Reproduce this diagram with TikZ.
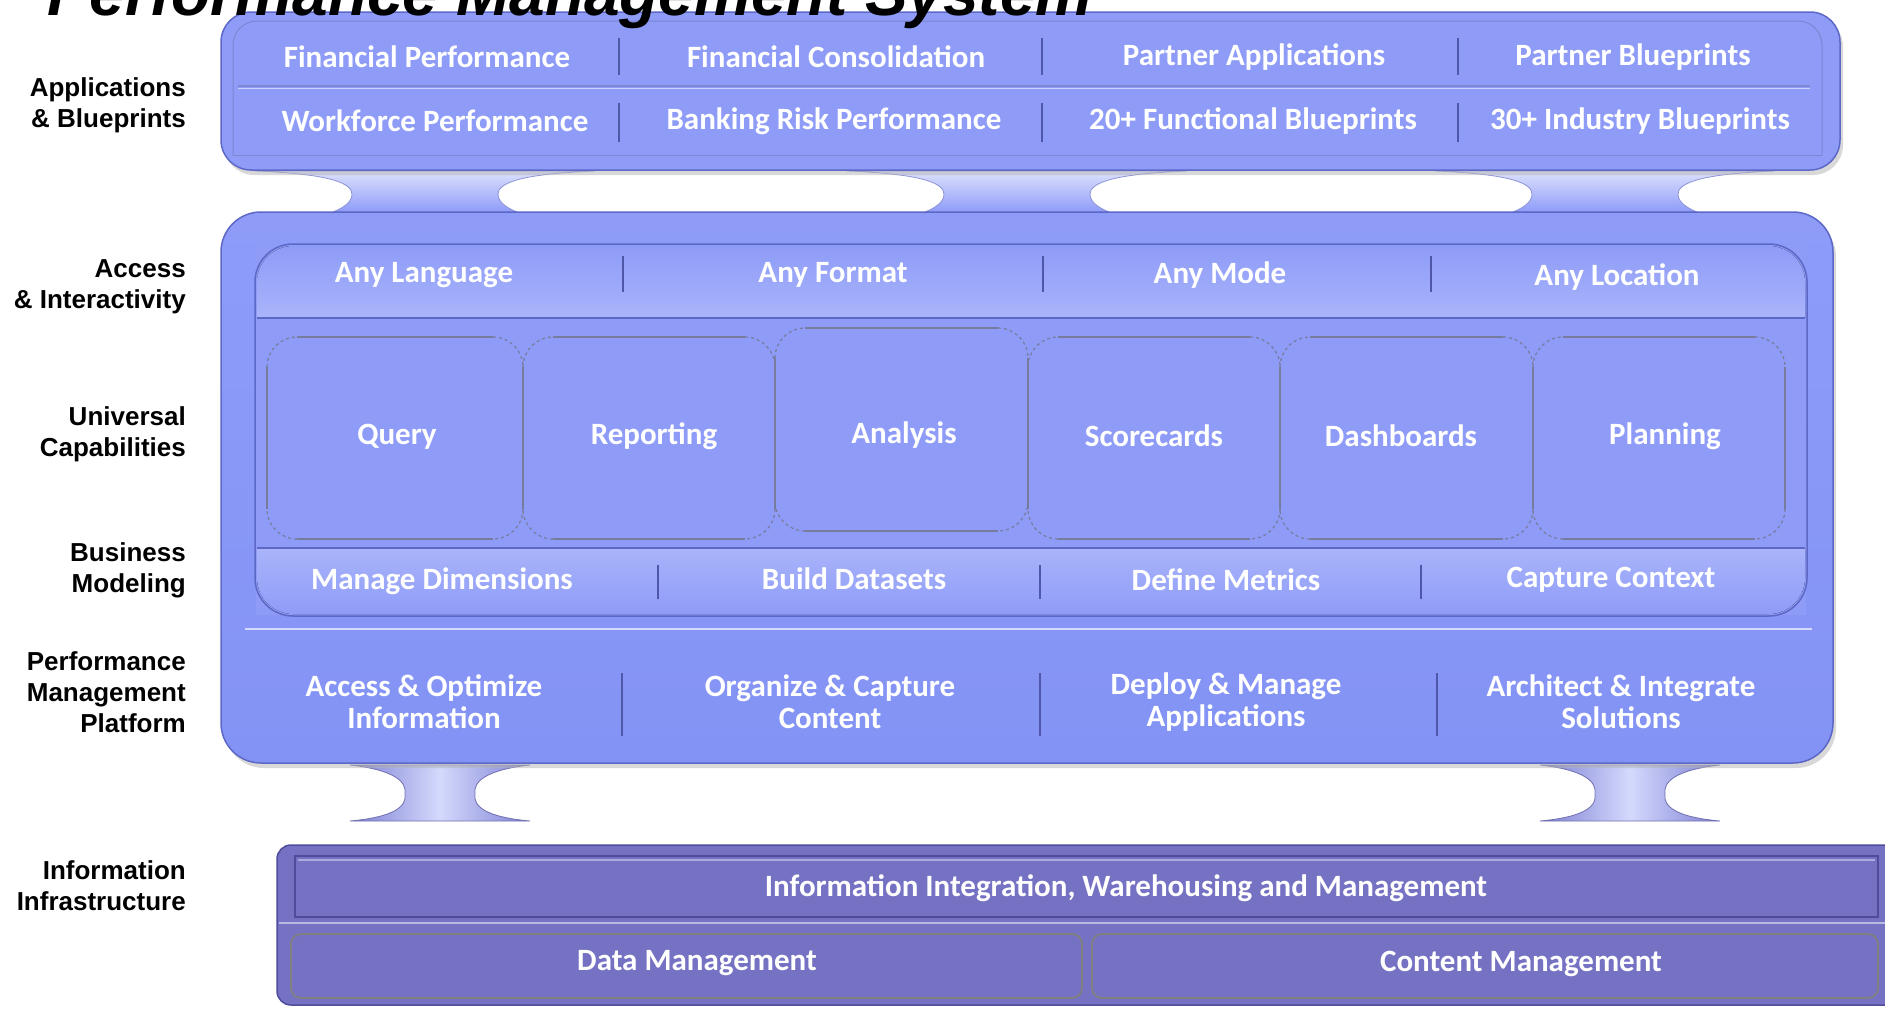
\documentclass[tikz,border=0pt]{standalone}
\usepackage{fontspec}
\setmainfont{Liberation Sans}
\newfontfamily\boxfont{Carlito}
\usetikzlibrary{shadows}

\definecolor{pmblue}{HTML}{8E9CF8}
\definecolor{pmdeep}{HTML}{8393F5}
\definecolor{pmlight}{HTML}{A9B4FA}
\definecolor{pmdark}{HTML}{5D68C6}
\definecolor{infra}{HTML}{7572C4}
\definecolor{infradark}{HTML}{4F4C9C}
\definecolor{capline}{HTML}{777B9C}

\begin{document}
\begin{tikzpicture}[x=1pt,y=-1pt,
    layer label/.style={font=\bfseries\fontsize{26}{31}\selectfont,align=right,anchor=east,inner sep=0pt},
    item/.style={font=\boxfont\bfseries\fontsize{31}{32}\selectfont,text=white,align=center,inner sep=0pt},
    panel/.style={draw=pmdark,line width=1.5pt},
    sep/.style={draw=pmdark!85!black,line width=1.3pt},
    foot/.style={draw=pmdark!70,line width=0.8pt,top color=pmlight!40!white,bottom color=pmblue},
    low foot/.style={draw=infradark!80,line width=0.8pt,left color=infra!70!pmblue,right color=infra!70!pmblue,middle color=pmlight!50!white},
    cap edge/.style={draw=capline,line width=1.6pt}]

    \useasboundingbox (0,0) rectangle (1885,1009);
    \clip (0,0) rectangle (1885,1009);

    % Define feet
    \foreach \c in {425,1017,1605}
        \draw[foot] (\c-170,171) -- (\c+170,171)
            .. controls (\c+95,174) and (\c+72,183) .. (\c+73,195)
            .. controls (\c+74,204) and (\c+85,209) .. (\c+92,212) -- (\c-92,212)
            .. controls (\c-85,209) and (\c-74,204) .. (\c-73,195)
            .. controls (\c-72,183) and (\c-95,174) .. (\c-170,171) -- cycle;
    \foreach \c in {440,1630}
        \draw[low foot] (\c-90,765) -- (\c+90,765)
            .. controls (\c+45,770) and (\c+33,782) .. (\c+35,794)
            .. controls (\c+33,806) and (\c+45,817) .. (\c+90,821) -- (\c-90,821)
            .. controls (\c-45,817) and (\c-33,806) .. (\c-35,794)
            .. controls (\c-33,782) and (\c-45,770) .. (\c-90,765) -- cycle;

    % Applications & Blueprints
    \draw[panel,rounded corners=30pt,fill=pmblue,
        drop shadow={shadow xshift=3pt,shadow yshift=-5pt,fill=black!30}] (221,12) rectangle (1840,170);
    \draw[pmdark!80,line width=1pt,rounded corners=24pt] (233,155) -- (233,21) -- (1822,21) -- (1822,155);
    \draw[pmdark!80,line width=1pt] (233,155) -- (1822,155);
    \draw[pmdark!80,line width=1.2pt] (238,86) -- (1810,86);
    \draw[pmlight!60!white,line width=1.5pt] (238,88.5) -- (1810,88.5);
    \foreach \x in {619,1042,1458} {
        \draw[sep] (\x,38) -- (\x,75);
        \draw[sep] (\x,103) -- (\x,142);
    }
    \node[item] (finperf) at (427,57) {Financial Performance};
    \node[item] (fincons) at (836,57) {Financial Consolidation};
    \node[item] (partapp) at (1254,57) {Partner Applications};
    \node[item] (partblue) at (1633,57) {Partner Blueprints};
    \node[item] (workperf) at (435,121) {Workforce Performance};
    \node[item] (bankrisk) at (834,121) {Banking Risk Performance};
    \node[item] (funcblue) at (1253,121) {20+ Functional Blueprints};
    \node[item] (indblue) at (1640,121) {30+ Industry Blueprints};

    % Access, capabilities, modeling and platform
    \draw[panel,rounded corners=40pt,top color=pmblue,bottom color=pmdeep,
        drop shadow={shadow xshift=3pt,shadow yshift=-5pt,fill=black!30}] (221,212) rectangle (1833,763);
    \draw[pmlight!50!white,line width=2pt] (245,629) -- (1812,629);
    \fill[pmblue] (256,244) rectangle (1806,615);
    \fill[rounded corners=36pt,top color=pmblue,bottom color=pmlight] (257,318) -- (257,246) -- (1805,246) -- (1805,318);
    \fill[rounded corners=36pt,top color=pmlight,bottom color=pmblue] (257,548) -- (257,614) -- (1805,614) -- (1805,548);
    \draw[pmdark,line width=1.2pt] (257,318) -- (1805,318);
    \draw[pmdark,line width=1.2pt] (257,548) -- (1805,548);
    \draw[panel,rounded corners=38pt] (255,244) rectangle (1807,616);

    \foreach \xa/\xb/\ya/\yb in {267/523/337/539,523/775/337/539,775/1028/328/531,
                                 1028/1280/337/539,1280/1533/337/539,1533/1785/337/539} {
        \draw[cap edge] (\xa+30,\ya) -- (\xb-30,\ya) (\xa+30,\yb) -- (\xb-30,\yb)
                        (\xa,\ya+30) -- (\xa,\yb-30) (\xb,\ya+30) -- (\xb,\yb-30);
        \draw[capline,line width=1.2pt,dash pattern=on 3pt off 3pt,rounded corners=30pt]
            (\xa,\ya+30) -- (\xa,\ya) -- (\xa+30,\ya)
            (\xb-30,\ya) -- (\xb,\ya) -- (\xb,\ya+30)
            (\xb,\yb-30) -- (\xb,\yb) -- (\xb-30,\yb)
            (\xa+30,\yb) -- (\xa,\yb) -- (\xa,\yb-30);
    }

    \foreach \x in {623,1043,1431}
        \draw[sep] (\x,256) -- (\x,292);
    \foreach \x in {658,1040,1421}
        \draw[sep] (\x,565) -- (\x,599);
    \foreach \x in {622,1040,1437}
        \draw[sep] (\x,673) -- (\x,736);

    \node[item] (anylang) at (424,275) {Any Language};
    \node[item] (anyformat) at (833,275) {Any Format};
    \node[item] (anymode) at (1220,275) {Any Mode};
    \node[item] (anyloc) at (1617,277) {Any Location};

    \node[item] (query) at (397,437) {Query};
    \node[item] (reporting) at (654,436) {Reporting};
    \node[item] (analysis) at (904,435) {Analysis};
    \node[item] (scorecards) at (1154,436) {Scorecards};
    \node[item] (dashboards) at (1401,436) {Dashboards};
    \node[item] (planning) at (1665,436) {Planning};

    \node[item] (managedim) at (442,581) {Manage Dimensions};
    \node[item] (datasets) at (854,579) {Build Datasets};
    \node[item] (metrics) at (1226,580) {Define Metrics};
    \node[item] (context) at (1611,580) {Capture Context};

    \node[item] (optimize) at (424,702) {Access \& Optimize\\Information};
    \node[item] (organize) at (830,702) {Organize \& Capture\\Content};
    \node[item] (deploy) at (1226,702) {Deploy \& Manage\\Applications};
    \node[item] (architect) at (1621,702) {Architect \& Integrate\\Solutions};

    % Information Infrastructure
    \draw[draw=infradark,line width=1.5pt,fill=infra,rounded corners=14pt] (277,845) rectangle (1905,1005);
    \draw[infradark,line width=1.4pt] (295,856) rectangle (1878,917);
    \draw[infra!60!white,line width=1.2pt] (298,860) -- (1875,860);
    \draw[infra!50!white,line width=2pt] (279,923) -- (1885,923);
    \draw[black!50,line width=1.8pt,rounded corners=10pt] (291,934) rectangle (1082,998);
    \draw[black!50,line width=1.8pt,rounded corners=10pt] (1092,934) rectangle (1878,998);
    \node[item] (integration) at (1126,888) {Information Integration, Warehousing and Management};
    \node[item] (datamgmt) at (697,963) {Data Management};
    \node[item] (contentmgmt) at (1521,964) {Content Management};

    % Layer labels
    \node[layer label] (applab) at (186,105) {Applications\\\& Blueprints};
    \node[layer label] (acclab) at (186,287) {Access\\\& Interactivity};
    \node[layer label] (caplab) at (186,434) {Universal\\Capabilities};
    \node[layer label] (modlab) at (186,570) {Business\\Modeling};
    \node[layer label] (platlab) at (186,692) {Performance\\Management\\Platform};
    \node[layer label] (inflab) at (186,886) {Information\\Infrastructure};

    \node[anchor=base west,inner sep=0pt,font=\bfseries\itshape\fontsize{64}{70}\selectfont] (title) at (47,15) {Performance Management System};

\end{tikzpicture}
\end{document}
